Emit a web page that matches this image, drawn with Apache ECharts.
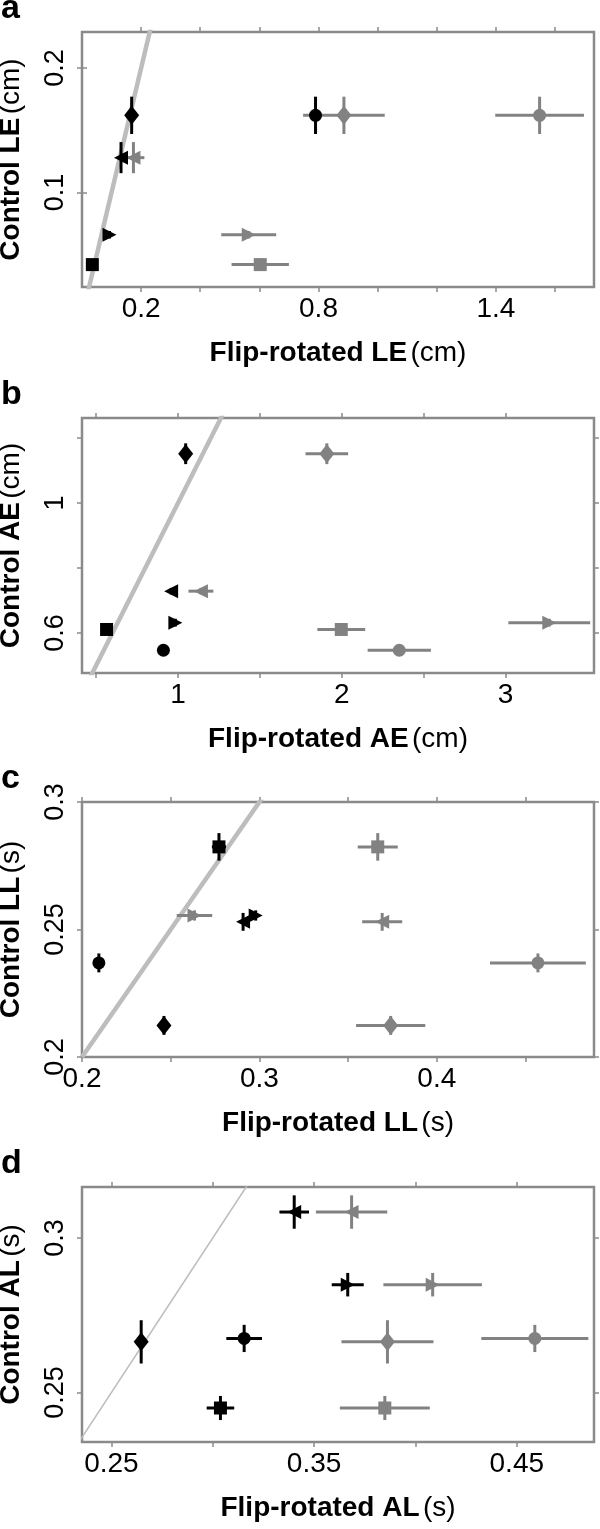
<!DOCTYPE html>
<html>
<head>
<meta charset="utf-8">
<script src="https://cdn.jsdelivr.net/npm/echarts@6/dist/echarts.min.js"></script>
<style>
  html, body { margin: 0; padding: 0; background: #ffffff; }
  #chart { width: 600px; height: 1529px; }
</style>
</head>
<body>
<div id="chart"></div>
<script>
// subject order for every panel: diamond, circle, left triangle, right triangle, square
const markers = ["diamond", "circle", "leftTri", "rightTri", "square"];

// a: LE (cm)
const aCtrl = [0.162, 0.162, 0.128, 0.066, 0.042];
const aCtrlErr = [0.015, 0.015, 0.0125, 0.003, 0.003];
const aBlack = [0.168, 0.79, 0.132, 0.093, 0.035];
const aBlackErr = [0.01, 0.012, 0.01, 0.01, 0.008];
const aGray = [0.886, 1.548, 0.174, 0.564, 0.603];
const aGrayErr = [0.138, 0.15, 0.037, 0.093, 0.097];

// b: AE (cm)
const bCtrl = [1.152, 0.547, 0.729, 0.632, 0.611];
const bCtrlErr = [0.032, 0.012, 0.01, 0.012, 0.015];
const bBlack = [1.047, 0.911, 0.958, 0.984, 0.564];
const bBlackErr = [0.02, 0.02, 0.02, 0.02, 0.02];
const bGray = [1.909, 2.351, 1.14, 3.267, 1.997];
const bGrayErr = [0.13, 0.193, 0.076, 0.25, 0.146];

// c: LL (s)
const cCtrl = [0.2124, 0.2369, 0.253, 0.2555, 0.2824];
const cCtrlErr = [0.0037, 0.0037, 0.0035, 0.002, 0.0054];
const cBlack = [0.2462, 0.2095, 0.2908, 0.2979, 0.2772];
const cBlackErr = [0.002, 0.002, 0.002, 0.002, 0.004];
const cGray = [0.374, 0.457, 0.3692, 0.2634, 0.3667];
const cGrayErr = [0.0195, 0.027, 0.0113, 0.01, 0.0113];

// d: AL (s)
const dCtrl = [0.2664, 0.2675, 0.3084, 0.2849, 0.245];
const dCtrlErr = [0.007, 0.0044, 0.0054, 0.0038, 0.0039];
const dBlack = [0.2647, 0.3155, 0.3402, 0.3666, 0.3038];
const dBlackErr = [0.002, 0.0088, 0.0073, 0.0079, 0.0068];
const dGray = [0.3862, 0.4589, 0.3685, 0.4085, 0.3849];
const dGrayErr = [0.0227, 0.0264, 0.0176, 0.0243, 0.0222];

// axis ranges and tick / label values
const aX = { min: 0, max: 1.732, ticks: [0.2, 0.4, 0.6, 0.8, 1.0, 1.2, 1.4, 1.6], labels: [0.2, 0.8, 1.4] };
const aY = { min: 0.024, max: 0.229, ticks: [0.1, 0.2], labels: [0.1, 0.2] };
const bX = { min: 0.414, max: 3.54, ticks: [0.5, 1, 1.5, 2, 2.5, 3], labels: [1, 2, 3] };
const bY = { min: 0.477, max: 1.262, ticks: [0.6, 0.8, 1.0, 1.2], labels: [0.6, 1] };
const cX = { min: 0.2, max: 0.4886, ticks: [0.2, 0.25, 0.3, 0.35, 0.4, 0.45], labels: [0.2, 0.3, 0.4] };
const cY = { min: 0.2, max: 0.3, ticks: [0.2, 0.25, 0.3], labels: [0.2, 0.25, 0.3] };
const dX = { min: 0.2355, max: 0.4881, ticks: [0.25, 0.3, 0.35, 0.4, 0.45], labels: [0.25, 0.35, 0.45] };
const dY = { min: 0.234, max: 0.3165, ticks: [0.25, 0.3], labels: [0.25, 0.3] };

const FONT = "Liberation Sans";
const FS = 28;
const BOX = "#8a8a8a";
const GRAY = "#828282";

const panels = [
  { letter: "a", top: 32, ctrl: aCtrl, ctrlErr: aCtrlErr, black: aBlack, blackErr: aBlackErr, gray: aGray, grayErr: aGrayErr,
    x: aX, y: aY, xName: ["Flip-rotated LE", "(cm)"], yName: ["Control LE", "(cm)"], diagWidth: 4.5 },
  { letter: "b", top: 418, ctrl: bCtrl, ctrlErr: bCtrlErr, black: bBlack, blackErr: bBlackErr, gray: bGray, grayErr: bGrayErr,
    x: bX, y: bY, xName: ["Flip-rotated AE", "(cm)"], yName: ["Control AE", "(cm)"], diagWidth: 4.5 },
  { letter: "c", top: 802, ctrl: cCtrl, ctrlErr: cCtrlErr, black: cBlack, blackErr: cBlackErr, gray: cGray, grayErr: cGrayErr,
    x: cX, y: cY, xName: ["Flip-rotated LL", "(s)"], yName: ["Control LL", "(s)"], diagWidth: 4.5 },
  { letter: "d", top: 1187, ctrl: dCtrl, ctrlErr: dCtrlErr, black: dBlack, blackErr: dBlackErr, gray: dGray, grayErr: dGrayErr,
    x: dX, y: dY, xName: ["Flip-rotated AL", "(s)"], yName: ["Control AL", "(s)"], diagWidth: 1.6 }
];

const symbolFor = {
  diamond: { symbol: "diamond", rot: 0, size: [15, 19] },
  circle: { symbol: "circle", rot: 0, size: 13 },
  leftTri: { symbol: "triangle", rot: 90, size: 14 },
  rightTri: { symbol: "triangle", rot: -90, size: 14 },
  square: { symbol: "rect", rot: 0, size: 13 }
};

function fmt(v) {
  return String(Math.round(v * 1000) / 1000);
}

function nameRich(parts) {
  return "{b|" + parts[0] + "} {n|" + parts[1] + "}";
}

const richName = {
  b: { fontFamily: FONT, fontSize: FS, fontWeight: "bold", color: "#000" },
  n: { fontFamily: FONT, fontSize: FS, color: "#000" }
};

function errorBars(color, width) {
  return function (params, api) {
    const x = api.value(0), y = api.value(1), xe = api.value(2), ye = api.value(3);
    const l = api.coord([x - xe, y]), r = api.coord([x + xe, y]);
    const t = api.coord([x, y + ye]), b = api.coord([x, y - ye]);
    const style = { stroke: color, lineWidth: width };
    return {
      type: "group",
      children: [
        { type: "line", shape: { x1: l[0], y1: l[1], x2: r[0], y2: r[1] }, style: style },
        { type: "line", shape: { x1: t[0], y1: t[1], x2: b[0], y2: b[1] }, style: style }
      ]
    };
  };
}

const grid = [], xAxis = [], yAxis = [], series = [], graphic = [];

panels.forEach((p, i) => {
  grid.push({
    left: 82, width: 512, top: p.top, height: 255, containLabel: false, outerBoundsMode: "none",
    show: true, borderColor: BOX, borderWidth: 2.5, backgroundColor: "transparent"
  });

  const tick = { show: true, length: 5, lineStyle: { color: BOX, width: 1.5 } };

  xAxis.push({
    type: "value", gridIndex: i, position: "bottom", min: p.x.min, max: p.x.max,
    splitLine: { show: false }, axisLine: { show: false },
    axisTick: Object.assign({ customValues: p.x.ticks }, tick),
    axisLabel: { customValues: p.x.labels, formatter: fmt, fontFamily: FONT, fontSize: FS, color: "#000", margin: 8 },
    name: nameRich(p.xName), nameLocation: "middle", nameGap: 52, nameTextStyle: { rich: richName }
  });
  xAxis.push({
    type: "value", gridIndex: i, position: "top", min: p.x.min, max: p.x.max,
    splitLine: { show: false }, axisLine: { show: false }, axisLabel: { show: false },
    axisTick: Object.assign({ customValues: p.x.ticks }, tick)
  });
  yAxis.push({
    type: "value", gridIndex: i, position: "left", min: p.y.min, max: p.y.max,
    splitLine: { show: false }, axisLine: { show: false },
    axisTick: Object.assign({ customValues: p.y.ticks }, tick),
    axisLabel: { customValues: p.y.labels, formatter: fmt, rotate: 90, fontFamily: FONT, fontSize: 27, color: "#000", margin: 13 },
    name: nameRich(p.yName), nameLocation: "middle", nameGap: 57, nameTextStyle: { rich: richName }
  });
  yAxis.push({
    type: "value", gridIndex: i, position: "right", min: p.y.min, max: p.y.max,
    splitLine: { show: false }, axisLine: { show: false }, axisLabel: { show: false },
    axisTick: Object.assign({ customValues: p.y.ticks }, tick)
  });

  const lo = Math.min(p.x.min, p.y.min), hi = Math.max(p.x.max, p.y.max);
  series.push({
    type: "line", xAxisIndex: 2 * i, yAxisIndex: 2 * i, data: [[lo, lo], [hi, hi]],
    symbol: "none", clip: true, silent: true, z: 1,
    lineStyle: { color: "#bdbdbd", width: p.diagWidth }
  });

  const grayBars = p.gray.map((v, k) => [v, p.ctrl[k], p.grayErr[k], p.ctrlErr[k]]);
  const blackBars = p.black.map((v, k) => [v, p.ctrl[k], p.blackErr[k], p.ctrlErr[k]]);

  series.push({
    type: "custom", xAxisIndex: 2 * i, yAxisIndex: 2 * i, data: grayBars, z: 2, silent: true,
    renderItem: errorBars(GRAY, 3)
  });
  series.push({
    type: "scatter", xAxisIndex: 2 * i, yAxisIndex: 2 * i, z: 3, silent: true,
    itemStyle: { color: GRAY, opacity: 1 },
    data: p.gray.map((v, k) => {
      const s = symbolFor[markers[k]];
      return { value: [v, p.ctrl[k]], symbol: s.symbol, symbolRotate: s.rot, symbolSize: s.size };
    })
  });
  series.push({
    type: "custom", xAxisIndex: 2 * i, yAxisIndex: 2 * i, data: blackBars, z: 4, silent: true,
    renderItem: errorBars("#000", 3)
  });
  series.push({
    type: "scatter", xAxisIndex: 2 * i, yAxisIndex: 2 * i, z: 5, silent: true,
    itemStyle: { color: "#000", opacity: 1 },
    data: p.black.map((v, k) => {
      const s = symbolFor[markers[k]];
      return { value: [v, p.ctrl[k]], symbol: s.symbol, symbolRotate: s.rot, symbolSize: s.size };
    })
  });

  graphic.push({
    type: "text", left: 1, top: p.top - 40,
    style: { text: p.letter, fontFamily: FONT, fontSize: 34, fontWeight: "bold", fill: "#000" }
  });
});

const chart = echarts.init(document.getElementById("chart"), null, { renderer: "canvas" });
chart.setOption({
  animation: false,
  backgroundColor: "#ffffff",
  grid: grid,
  xAxis: xAxis,
  yAxis: yAxis,
  series: series,
  graphic: graphic
});
</script>
</body>
</html>
